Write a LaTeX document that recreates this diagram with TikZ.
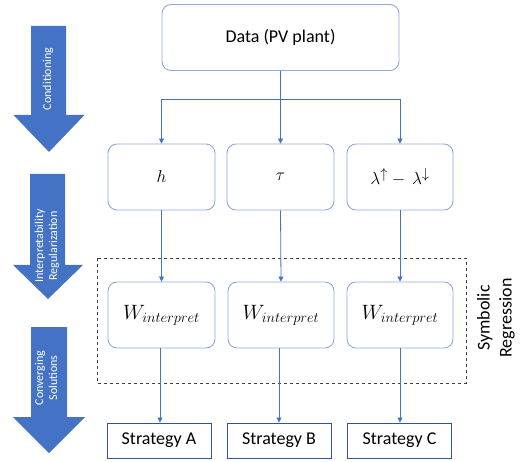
\documentclass[tikz,border=0pt]{standalone}
\usepackage{fontspec}
\setmainfont{Carlito}
\usetikzlibrary{arrows.meta}
\definecolor{lineblue}{HTML}{4472C4}
\definecolor{boxblue}{HTML}{8FAADC}
\definecolor{darkblue}{HTML}{2F5597}
\tikzset{
  rbox/.style={draw=boxblue, line width=0.9pt, rounded corners=9pt, fill=white, minimum height=66pt, inner sep=0pt},
  sbox/.style={draw=darkblue, line width=0.9pt, fill=white, minimum height=35pt, minimum width=104pt, inner sep=0pt, font=\fontsize{18}{21}\selectfont},
  conn/.style={draw=lineblue, line width=0.8pt},
  tipconn/.style={conn, -{Triangle[width=5pt,length=5pt]}},
  bigarrow/.style={fill=lineblue, draw=none},
  arrowtext/.style={text=white, rotate=90, align=center, font=\fontsize{12}{14}\selectfont, inner sep=0pt},
  mathlbl/.style={font=\fontsize{19}{22}\selectfont},
  wlbl/.style={font=\fontsize{21}{24}\selectfont}
}
\begin{document}
\begin{tikzpicture}[x=1pt,y=-1pt]
\useasboundingbox (0,0) rectangle (522,462);
% left process arrows
\fill[bigarrow] (31,26) -- (66,26) -- (66,115) -- (84.5,115) -- (49,152) -- (13.5,115) -- (31,115) -- cycle;
\node[arrowtext] (a1) at (48,79) {Conditioning};
\fill[bigarrow] (30,174) -- (65,174) -- (65,265) -- (83,265) -- (48,299) -- (13,265) -- (30,265) -- cycle;
\node[arrowtext] (a2) at (47,246) {Interpretability\\Regularization};
\fill[bigarrow] (31,327) -- (67,327) -- (67,417) -- (85,417) -- (49,453) -- (13,417) -- (31,417) -- cycle;
\node[arrowtext] (a3) at (46,378) {Converging\\Solutions};
% dashed group
\draw[dashed, line width=0.6pt, draw=black!75] (97,258) rectangle (466,383);
\node[rotate=90, align=center, font=\fontsize{18}{22}\selectfont, inner sep=0pt] (sr) at (496,318) {Symbolic\\Regression};
% nodes
\node[rbox, minimum width=237pt, font=\fontsize{18}{21}\selectfont] (data) at (280.5,37.5) {Data (PV plant)};
\node[rbox, minimum width=107pt, mathlbl] (h) at (161.5,177) {$h$};
\node[rbox, minimum width=107pt, mathlbl] (tau) at (280.5,177) {$\tau$};
\node[rbox, minimum width=106pt, mathlbl] (lam) at (400,177) {$\lambda^{\uparrow}-\,\lambda^{\downarrow}$};
\node[rbox, minimum width=107pt, wlbl] (w1) at (161.5,315) {$W_{interpret}$};
\node[rbox, minimum width=106pt, wlbl] (w2) at (281,315) {$W_{interpret}$};
\node[rbox, minimum width=106pt, wlbl] (w3) at (400,315) {$W_{interpret}$};
\node[sbox] (sa) at (159,440.5) {Strategy A};
\node[sbox] (sb) at (279,440.5) {Strategy B};
\node[sbox] (sc) at (399.5,440.5) {Strategy C};
% connectors
\coordinate (split) at (281,99);
\draw[conn] (data.south) -- (data.south |- split);
\draw[tipconn] (data.south |- split) -| (h.north);
\draw[tipconn] (data.south |- split) -- (tau.north);
\draw[tipconn] (data.south |- split) -| (lam.north);
\draw[tipconn] (h.south) -- (w1.north);
\draw[tipconn] (tau.south) -- (w2.north);
\draw[tipconn] (lam.south) -- (w3.north);
\draw[tipconn] ([xshift=-1.5pt]w1.south) -- ([xshift=-1.5pt]w1.south |- sa.north);
\draw[tipconn] ([xshift=-2pt]w2.south) -- ([xshift=-2pt]w2.south |- sb.north);
\draw[tipconn] (w3.south) -- (w3.south |- sc.north);
\end{tikzpicture}
\end{document}
